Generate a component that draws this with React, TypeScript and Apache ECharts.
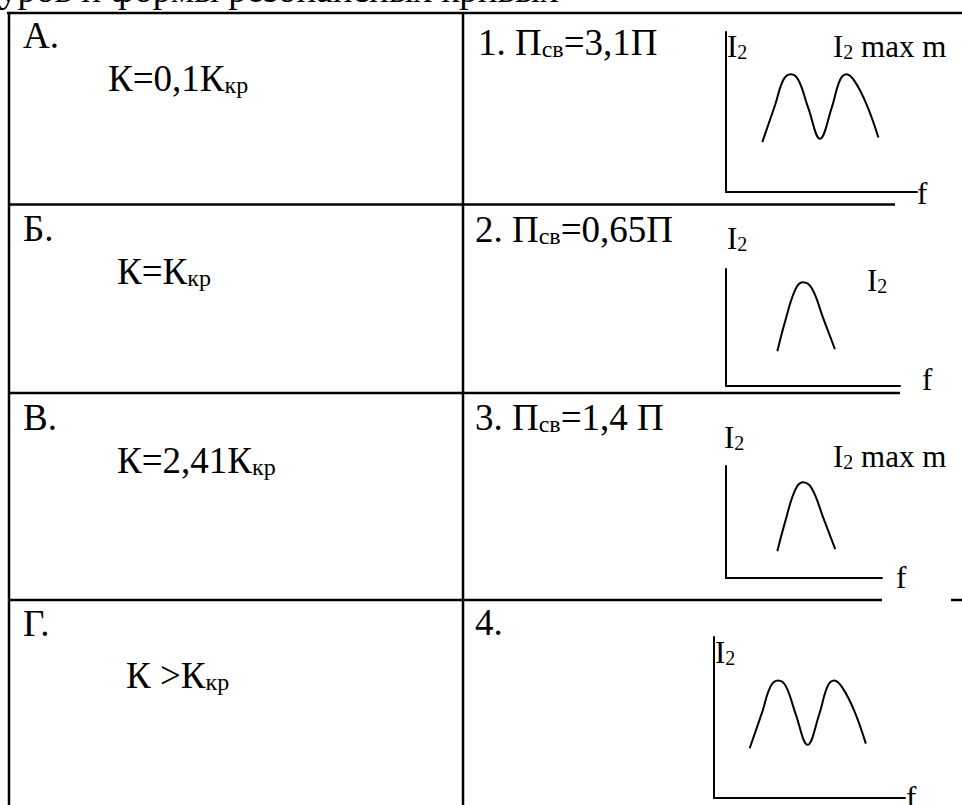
import React, { useEffect, useRef } from "react";
import * as echarts from "echarts";

const FONT = "Liberation Serif";

// Resonance curves I2(f), in relative units (f: 0..10, I2: 0..10)
const curve1: number[][] = [
  [1.9, 3.12], [2.57, 5.44], [3.0, 7.0], [3.39, 7.36], [3.79, 7.0], [4.31, 5.24],
  [4.92, 3.33], [5.53, 5.24], [5.97, 7.0], [6.32, 7.36], [6.75, 6.9], [7.37, 5.45], [7.98, 3.41],
];
const curve2: number[][] = [
  [2.95, 2.97], [3.39, 5.48], [3.97, 8.2], [4.41, 8.86], [4.93, 8.35], [5.59, 5.78], [6.26, 3.14],
];
const curve3: number[][] = [
  [3.29, 2.39], [3.79, 5.01], [4.43, 7.85], [4.93, 8.54], [5.5, 8.0], [6.25, 5.32], [7.0, 2.57],
];
const curve4: number[][] = [
  [1.87, 3.09], [2.54, 5.4], [2.97, 6.95], [3.36, 7.3], [3.76, 6.95], [4.28, 5.2],
  [4.9, 3.3], [5.51, 5.2], [5.95, 6.95], [6.3, 7.3], [6.73, 6.84], [7.35, 5.4], [7.95, 3.38],
];

const leftLetters = ["А.", "Б.", "В.", "Г."];
const couplingMain = ["К=0,1К", "К=К", "К=2,41К", "К >К"];
const couplingSub = "кр";
const bandPrefix = ["1. П", "2. П", "3. П"];
const bandSub = "св";
const bandValue = ["=3,1П", "=0,65П", "=1,4 П"];
const lastItem = "4.";
const title = "уров и формы резонансных кривых";

type Part = [string, boolean];
const C = 0.3375; // central-baseline offset of Liberation Serif (em)

function rt(x: number, baseline: number, parts: Part[], F: number, S: number, d: number) {
  const h = 2 * (F / 2 - C * (F - S) - d);
  const text = parts.map(([t, s]) => `{${s ? "s" : "m"}|${t}}`).join("");
  return {
    type: "text",
    x,
    y: baseline - F / 2 - C * F,
    silent: true,
    style: {
      text,
      align: "left",
      verticalAlign: "top",
      fill: "#000",
      fontFamily: FONT,
      fontSize: F,
      rich: {
        m: { fontSize: F, fontFamily: FONT, lineHeight: F, verticalAlign: "middle", fill: "#000" },
        s: { fontSize: S, fontFamily: FONT, lineHeight: h, verticalAlign: "bottom", fill: "#000" },
      },
    },
  };
}

function hline(x1: number, x2: number, y: number, w = 2.5) {
  return { type: "line", silent: true, shape: { x1, y1: y, x2, y2: y }, style: { stroke: "#000", lineWidth: w } };
}
function vline(x: number, y1: number, y2: number, w = 2.5) {
  return { type: "line", silent: true, shape: { x1: x, y1, x2: x, y2 }, style: { stroke: "#000", lineWidth: w } };
}

const grids = [
  { left: 726, top: 32, width: 191, height: 160 },
  { left: 726, top: 269, width: 174, height: 117 },
  { left: 726, top: 466, width: 156, height: 112 },
  { left: 714, top: 637, width: 191, height: 161 },
];
const curves = [curve1, curve2, curve3, curve4];

export default function App() {
  const ref = useRef<HTMLDivElement>(null);
  useEffect(() => {
    document.body.style.margin = "0";
    if (!ref.current) return;
    const chart = echarts.init(ref.current, undefined, { renderer: "svg" });
    const F = 37, S = 24, D = 4;
    const LF = 31, LS = 20, LD = 3;
    const I2: Part[] = [["I", false], ["2", true]];
    const I2max: Part[] = [["I", false], ["2", true], [" max m", false]];
    const leftBase = [47.7, 241, 430, 636];
    const kBase = [90.7, 284, 473, 688];
    const kX = [108, 117, 117, 126];
    const rightBase = [55, 242, 430];
    const rightX = [478, 475, 475];

    const graphic: any[] = [
      // table rules
      hline(7, 962, 13),
      vline(9, 13, 805),
      vline(463, 13, 805),
      hline(9, 895, 204.5),
      hline(9, 900, 393),
      hline(9, 882, 600),
      hline(951, 962, 600),
      rt(-1, 2, [[title, false]], F, S, D),
    ];
    leftLetters.forEach((t, i) => {
      graphic.push(rt(23, leftBase[i], [[t, false]], F, S, D));
      graphic.push(rt(kX[i], kBase[i], [[couplingMain[i], false], [couplingSub, true]], F, S, D));
    });
    bandPrefix.forEach((p, i) => {
      graphic.push(rt(rightX[i], rightBase[i], [[p, false], [bandSub, true], [bandValue[i], false]], F, S, D));
    });
    graphic.push(rt(475, 635, [[lastItem, false]], F, S, D));

    // graph labels
    graphic.push(rt(727, 57.3, I2, LF, LS, LD));
    graphic.push(rt(833, 57, I2max, LF, LS, LD));
    graphic.push(rt(917, 204, [["f", false]], 31, LS, LD));

    graphic.push(rt(727, 249.3, I2, LF, LS, LD));
    graphic.push(rt(867, 291, I2, LF, LS, LD));
    graphic.push(rt(922, 390, [["f", false]], 31, LS, LD));

    graphic.push(rt(724, 448.3, I2, LF, LS, LD));
    graphic.push(rt(833, 466.7, I2max, LF, LS, LD));
    graphic.push(rt(896, 588, [["f", false]], 31, LS, LD));

    graphic.push(rt(715, 663, I2, LF, LS, LD));
    graphic.push(rt(906, 808, [["f", false]], 31, LS, LD));

    const axisCommon = {
      type: "value",
      min: 0,
      max: 10,
      axisLine: { show: true, onZero: false, lineStyle: { color: "#000", width: 2 } },
      axisTick: { show: false },
      axisLabel: { show: false },
      splitLine: { show: false },
    };

    chart.setOption({
      animation: false,
      backgroundColor: "#fff",
      grid: grids.map((g) => ({ ...g, containLabel: false })),
      xAxis: grids.map((_, i) => ({ ...axisCommon, gridIndex: i })),
      yAxis: grids.map((_, i) => ({ ...axisCommon, gridIndex: i })),
      series: curves.map((c, i) => ({
        type: "line",
        xAxisIndex: i,
        yAxisIndex: i,
        data: c,
        smooth: 0.4,
        symbol: "none",
        lineStyle: { color: "#000", width: 2 },
      })),
      graphic,
    });
    return () => chart.dispose();
  }, []);
  return <div ref={ref} style={{ width: 962, height: 805 }} />;
}
